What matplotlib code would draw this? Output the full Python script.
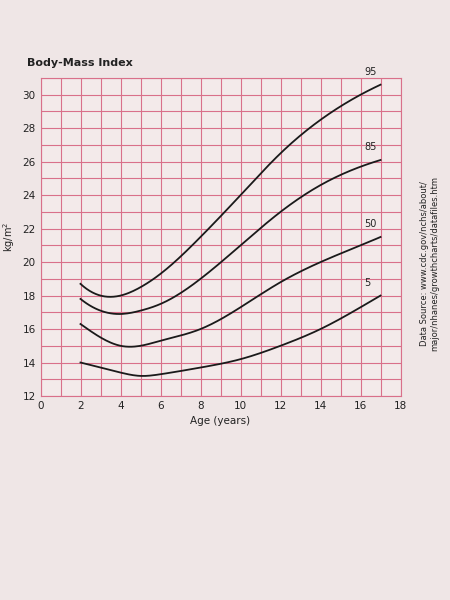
import matplotlib
matplotlib.use("Agg")
import matplotlib.pyplot as plt
from scipy.interpolate import make_interp_spline
import numpy as np

ages = [2, 3, 4, 5, 6, 8, 10, 12, 14, 16, 17]
p95 = [18.7, 18.0, 18.0, 18.5, 19.3, 21.5, 24.0, 26.5, 28.5, 30.0, 30.6]
p85 = [17.8, 17.1, 16.9, 17.1, 17.5, 19.0, 21.0, 23.0, 24.6, 25.7, 26.1]
p50 = [16.3, 15.5, 15.0, 15.0, 15.3, 16.0, 17.3, 18.8, 20.0, 21.0, 21.5]
p5 = [14.0, 13.7, 13.4, 13.2, 13.3, 13.7, 14.2, 15.0, 16.0, 17.3, 18.0]
labels = ["95", "85", "50", "5"]
xticks = [0, 2, 4, 6, 8, 10, 12, 14, 16, 18]
yticks = [12, 14, 16, 18, 20, 22, 24, 26, 28, 30]

grid_c = "#d9708a"
fig = plt.figure(figsize=(4.5, 6), dpi=100, facecolor="#efe6e6")
fig.text(0.06, 0.89, "Body-Mass Index", fontsize=8, fontweight="bold", color="#222")
ax = fig.add_axes([0.09, 0.34, 0.80, 0.53], facecolor="#f3eaea")
ax.set_xlim(0, 18)
ax.set_ylim(12, 31)
for x in range(0, 19):
    ax.axvline(x, color=grid_c, lw=0.8)
for y in range(12, 32):
    ax.axhline(y, color=grid_c, lw=0.8)
for s in ax.spines.values():
    s.set_color(grid_c)
ax.set_xticks(xticks)
ax.set_yticks(yticks)
ax.tick_params(length=0, labelsize=7.5, colors="#222")
ax.set_xlabel("Age (years)", fontsize=7.5, color="#222")
ax.set_ylabel("kg/m$^2$", fontsize=7, color="#222")
xs = np.linspace(2, 17, 200)
for vals, lab in zip([p95, p85, p50, p5], labels):
    ys = make_interp_spline(ages, vals, k=3)(xs)
    ax.plot(xs, ys, color="#1a1a1a", lw=1.3)
    ax.text(16.2, vals[-1] + 0.6, lab, fontsize=7, color="#222")
fig.text(0.955, 0.56, "Data Source: www.cdc.gov/nchs/about/\nmajor/nhanes/growthcharts/datafiles.htm",
         rotation=90, fontsize=6, va="center", ha="center", color="#222")
fig.savefig("out.png", facecolor=fig.get_facecolor())
